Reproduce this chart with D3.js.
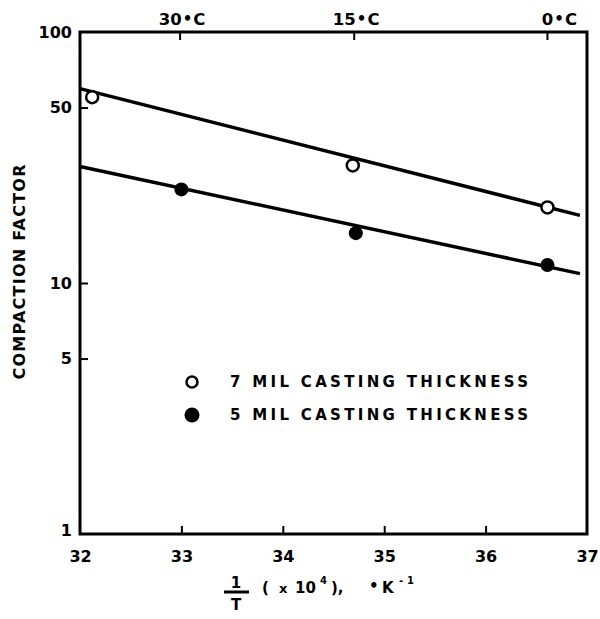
<!DOCTYPE html>
<html>
<head>
<meta charset="utf-8">
<script src="https://cdn.jsdelivr.net/npm/d3@7"></script>
<style>
  body { margin: 0; background: #fff; }
  text { font-family: "DejaVu Sans", sans-serif; font-weight: bold; fill: #000; }
</style>
</head>
<body>
<svg width="600" height="619"></svg>
<script>
// 1/T (x10^4) positions and compaction factors
const thick7 = [[32.12, 55], [34.69, 29.4], [36.61, 20.0]]
const thick5 = [[33.0, 23.6], [34.72, 15.8], [36.61, 11.8]]
// fitted straight lines (end points)
const fit7 = [[32.0, 59.5], [36.93, 18.6]]
const fit5 = [[32.0, 29.1], [36.93, 10.9]]

const xTicks = [32, 33, 34, 35, 36, 37]
const yTicks = [1, 5, 10, 50, 100]
const tempTicks = [{ t: 30, label: "30" }, { t: 15, label: "15" }, { t: 0, label: "0" }]
const legendItems = [
    { label: "7 MIL CASTING THICKNESS", filled: false },
    { label: "5 MIL CASTING THICKNESS", filled: true },
]

const svg = d3.select("svg")
const margin = { left: 80, right: 13, top: 32, bottom: 85 }
const W = 600, H = 619

const x = d3.scaleLinear().domain([32, 37]).range([margin.left, W - margin.right])
const y = d3.scaleLog().domain([1, 100]).range([H - margin.bottom, margin.top])

// frame
svg.append("rect")
    .attr("x", x(32)).attr("y", y(100))
    .attr("width", x(37) - x(32)).attr("height", y(1) - y(100))
    .attr("fill", "none").attr("stroke", "#000").attr("stroke-width", 3)

// bottom axis
const xAxis = d3.axisBottom(x).tickValues(xTicks).tickSize(-8).tickPadding(17).tickFormat(d3.format("d"))
const gx = svg.append("g").attr("transform", `translate(0,${y(1)})`).call(xAxis)
gx.select(".domain").remove()
gx.selectAll(".tick line").attr("stroke-width", 2)
    .filter(d => d === 32 || d === 37).remove()
gx.selectAll(".tick text").attr("font-size", 16)

// left axis
const yAxis = d3.axisLeft(y).tickValues(yTicks).tickSize(-8).tickPadding(8).tickFormat(d3.format("d"))
const gy = svg.append("g").attr("transform", `translate(${x(32)},0)`).call(yAxis)
gy.select(".domain").remove()
gy.selectAll(".tick line").attr("stroke-width", 2)
    .filter(d => d === 1 || d === 100).remove()
gy.selectAll(".tick text").attr("font-size", 16)
gy.selectAll(".tick").filter(d => d === 1).select("text").attr("dy", "0.1em")
// the axis sets its own font; let the stylesheet win
svg.selectAll("g").attr("font-family", null).attr("font-size", null)

// top axis: temperature in deg C at 1e4 / T
const invT = c => 1e4 / (c + 273.15)
const topAxis = svg.append("g")
topAxis.selectAll("line").data(tempTicks).join("line")
    .attr("x1", d => x(invT(d.t))).attr("x2", d => x(invT(d.t)))
    .attr("y1", y(100)).attr("y2", y(100) + 8)
    .attr("stroke", "#000").attr("stroke-width", 2)
const tl = topAxis.selectAll("text").data(tempTicks).join("text")
    .attr("x", d => x(invT(d.t)) + (d.t === 0 ? 12 : 2))
    .attr("y", 25)
    .attr("text-anchor", "middle")
    .attr("font-size", 16.5)
tl.append("tspan").text(d => d.label)
tl.append("tspan").attr("font-size", 15).attr("dy", -1).attr("dx", 1).text("•")
tl.append("tspan").attr("dy", 1).attr("dx", 1).text("C")

// fit lines
const line = d3.line().x(d => x(d[0])).y(d => y(d[1]))
svg.append("g").selectAll("path").data([fit7, fit5]).join("path")
    .attr("d", line)
    .attr("fill", "none").attr("stroke", "#000").attr("stroke-width", 3.5)

// points
svg.append("g").selectAll("circle").data(thick7).join("circle")
    .attr("cx", d => x(d[0])).attr("cy", d => y(d[1])).attr("r", 6)
    .attr("fill", "#fff").attr("stroke", "#000").attr("stroke-width", 2.5)
svg.append("g").selectAll("circle").data(thick5).join("circle")
    .attr("cx", d => x(d[0])).attr("cy", d => y(d[1])).attr("r", 7)
    .attr("fill", "#000")

// legend
const lg = svg.append("g").selectAll("g").data(legendItems).join("g")
    .attr("transform", (d, i) => `translate(192,${382 + i * 33})`)
lg.append("circle")
    .attr("r", d => d.filled ? 7.5 : 5.5)
    .attr("fill", d => d.filled ? "#000" : "#fff")
    .attr("stroke", "#000").attr("stroke-width", d => d.filled ? 0 : 2.5)
lg.append("text")
    .attr("x", 38).attr("y", (d, i) => i ? 5 : 4.5).attr("font-size", 15)
    .attr("textLength", 298).attr("lengthAdjust", "spacing")
    .text(d => d.label)

// y label
svg.append("text")
    .attr("transform", "translate(25,272) rotate(-90)")
    .attr("text-anchor", "middle").attr("font-size", 16)
    .attr("textLength", 215).attr("lengthAdjust", "spacing")
    .text("COMPACTION FACTOR")

// x label: 1/T ( x 10^4), °K^-1
const xl = svg.append("g").attr("transform", "translate(0,-3)")
xl.append("text").attr("x", 236).attr("y", 591).attr("text-anchor", "middle").attr("font-size", 15).text("1")
xl.append("line").attr("x1", 224).attr("x2", 249).attr("y1", 595).attr("y2", 595)
    .attr("stroke", "#000").attr("stroke-width", 3)
xl.append("text").attr("x", 236).attr("y", 613).attr("text-anchor", "middle").attr("font-size", 15).text("T")
const xt = xl.append("text").attr("y", 596).attr("font-size", 15)
xt.append("tspan").attr("x", 262).text("(")
xt.append("tspan").attr("x", 279).attr("font-size", 13).text("x")
xt.append("tspan").attr("x", 295).text("10")
xt.append("tspan").attr("x", 320).attr("font-size", 10).attr("dy", -9).text("4")
xt.append("tspan").attr("x", 331).attr("dy", 9).text("),")
xt.append("tspan").attr("x", 369).attr("font-size", 15).attr("dy", -2).text("•")
xt.append("tspan").attr("x", 382).attr("dy", 2).text("K")
xt.append("tspan").attr("x", 399).attr("font-size", 10).attr("dy", -9).text("-")
xt.append("tspan").attr("x", 407).attr("font-size", 10).text("1")
</script>
</body>
</html>
